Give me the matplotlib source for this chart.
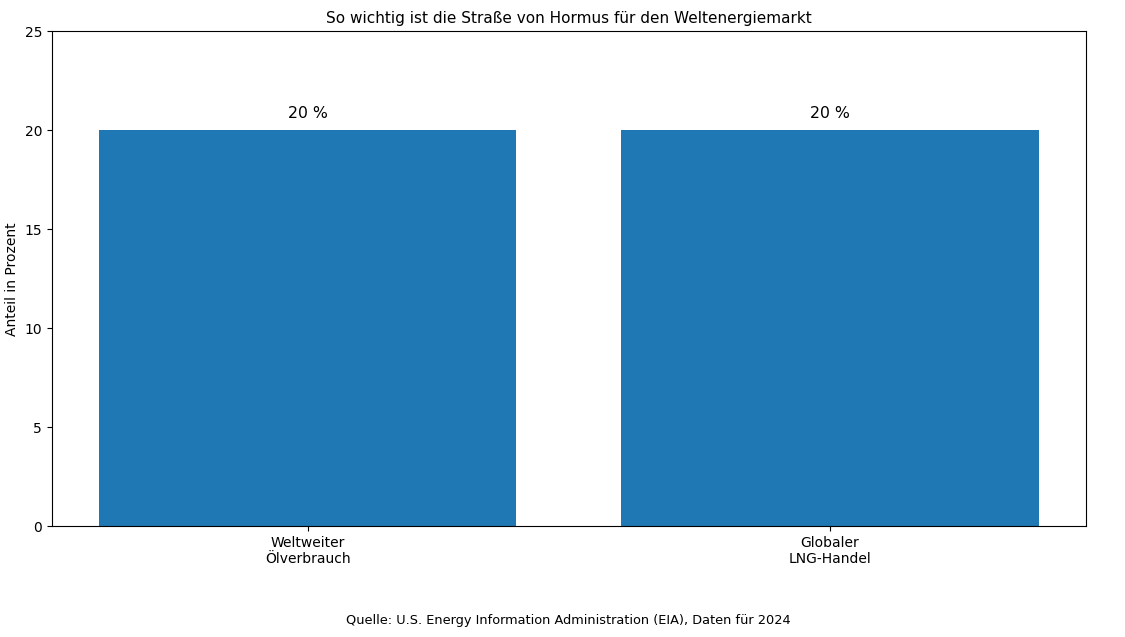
import matplotlib
matplotlib.use('Agg')
import matplotlib.pyplot as plt

# Daten
kategorien = ['Weltweiter\nÖlverbrauch', 'Globaler\nLNG-Handel']
anteile = [20, 20]

fig, ax = plt.subplots(figsize=(11.25, 6.37), dpi=100)
bars = ax.bar(kategorien, anteile, color='#1f77b4')
for b, v in zip(bars, anteile):
    ax.text(b.get_x() + b.get_width() / 2, v + 0.45, f'{v} %', ha='center', va='bottom', fontsize=11.3)

ax.set_ylim(0, 25)
ax.set_ylabel('Anteil in Prozent')
ax.tick_params(labelsize=10)
ax.set_title('So wichtig ist die Straße von Hormus für den Weltenergiemarkt', fontsize=11)
fig.text(0.505, 0.015, 'Quelle: U.S. Energy Information Administration (EIA), Daten für 2024',
         ha='center', va='bottom', fontsize=9.3)
fig.subplots_adjust(left=0.046, right=0.965, top=0.951, bottom=0.174)
fig.savefig('out.png')
